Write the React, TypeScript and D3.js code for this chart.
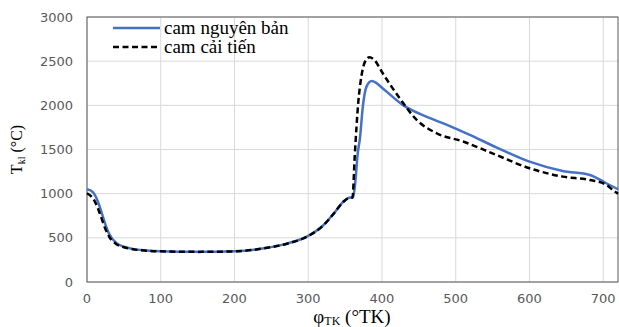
import * as d3 from 'd3';

// góc quay trục khuỷu (độ) và nhiệt độ (°C)
const phiGoc = [0, 5, 10, 15, 20, 25, 30, 40, 50, 60, 80, 100, 150, 200, 240, 270, 300, 320, 335, 347, 354, 361, 364, 367, 370, 374, 379, 386, 392, 400, 428, 465, 492, 519, 555, 600, 645, 682, 704, 720];
const camGoc = [1050, 1035, 995, 905, 780, 650, 545, 440, 400, 378, 357, 348, 342, 348, 382, 432, 522, 640, 780, 905, 950, 962, 1150, 1450, 1620, 1985, 2212, 2275, 2255, 2200, 2005, 1855, 1765, 1665, 1525, 1362, 1257, 1212, 1118, 1050];

const phiCaiTien = [0, 5, 10, 15, 20, 25, 30, 40, 50, 60, 80, 100, 150, 200, 240, 270, 300, 320, 335, 347, 354, 360, 363, 368, 372, 377, 383, 390, 401, 424, 447, 474, 510, 555, 600, 645, 682, 704, 716, 720];
const camCaiTien = [1005, 975, 920, 830, 715, 600, 515, 428, 393, 374, 355, 347, 341, 347, 381, 431, 520, 638, 778, 903, 948, 955, 1420, 2050, 2325, 2495, 2545, 2510, 2363, 2080, 1835, 1684, 1590, 1438, 1288, 1193, 1155, 1100, 1022, 1000];

const xTicks = [0, 100, 200, 300, 400, 500, 600, 700];
const yTicks = [0, 500, 1000, 1500, 2000, 2500, 3000];

const W = 619;
const H = 327;
const m = { left: 87, right: 1, top: 17, bottom: 45 };

export default function App() {
  const x = d3.scaleLinear().domain([0, 720]).range([m.left, W - m.right]);
  const y = d3.scaleLinear().domain([0, 3000]).range([H - m.bottom, m.top]);

  const line = d3.line<[number, number]>()
    .x(d => x(d[0]))
    .y(d => y(d[1]))
    .curve(d3.curveMonotoneX);

  const goc = phiGoc.map((p, i) => [p, camGoc[i]] as [number, number]);
  const caiTien = phiCaiTien.map((p, i) => [p, camCaiTien[i]] as [number, number]);

  const tickStyle = { fontFamily: 'DejaVu Sans', fontSize: 13, fill: '#595959' };
  const serif = 'Liberation Serif';

  return (
    <svg width={W} height={H} style={{ position: 'absolute', left: 0, top: 0, background: '#fff' }}>
      {/* lưới */}
      {xTicks.map(t => (
        <line key={'gx' + t} x1={x(t)} x2={x(t)} y1={y(3000)} y2={y(0)} stroke="#d9d9d9" strokeWidth={1} />
      ))}
      {yTicks.map(t => (
        <line key={'gy' + t} x1={x(0)} x2={x(720)} y1={y(t)} y2={y(t)} stroke="#d9d9d9" strokeWidth={1} />
      ))}
      <rect x={x(0)} y={y(3000)} width={x(720) - x(0)} height={y(0) - y(3000)} fill="none" stroke="#595959" strokeWidth={1} />

      {/* nhãn trục */}
      {yTicks.map(t => (
        <text key={'ty' + t} x={x(0) - 14} y={y(t)} dy="0.35em" textAnchor="end" {...tickStyle}>{t}</text>
      ))}
      {xTicks.map(t => (
        <text key={'tx' + t} x={x(t)} y={y(0) + 16} dy="0.35em" textAnchor="middle" {...tickStyle}>{t}</text>
      ))}

      {/* đường cong */}
      <path d={line(goc) || ''} fill="none" stroke="#4472c4" strokeWidth={2.5} />
      <path d={line(caiTien) || ''} fill="none" stroke="#000" strokeWidth={2.5} strokeDasharray="6,3.5" />

      {/* chú thích */}
      <line x1={113} x2={160} y1={28} y2={28} stroke="#4472c4" strokeWidth={2.5} />
      <text x={164} y={34} fontFamily={serif} fontSize={19} fill="#000">cam nguyên bản</text>
      <line x1={113} x2={160} y1={47} y2={47} stroke="#000" strokeWidth={2.5} strokeDasharray="6,3.5" />
      <text x={164} y={53} fontFamily={serif} fontSize={19} fill="#000">cam cải tiến</text>

      {/* tên trục */}
      <text transform={`translate(22,${(y(0) + y(3000)) / 2}) rotate(-90)`} textAnchor="middle" fontFamily={serif} fontSize={16} fill="#000">
        T<tspan fontSize={10} dy={3}>kl</tspan><tspan dy={-3}> (°C)</tspan>
      </text>
      <text x={352} y={323} textAnchor="middle" fontFamily={serif} fontSize={19} fill="#000">
        φ<tspan fontSize={12} dy={2}>TK</tspan><tspan dy={-2}> (°TK)</tspan>
      </text>
    </svg>
  );
}
